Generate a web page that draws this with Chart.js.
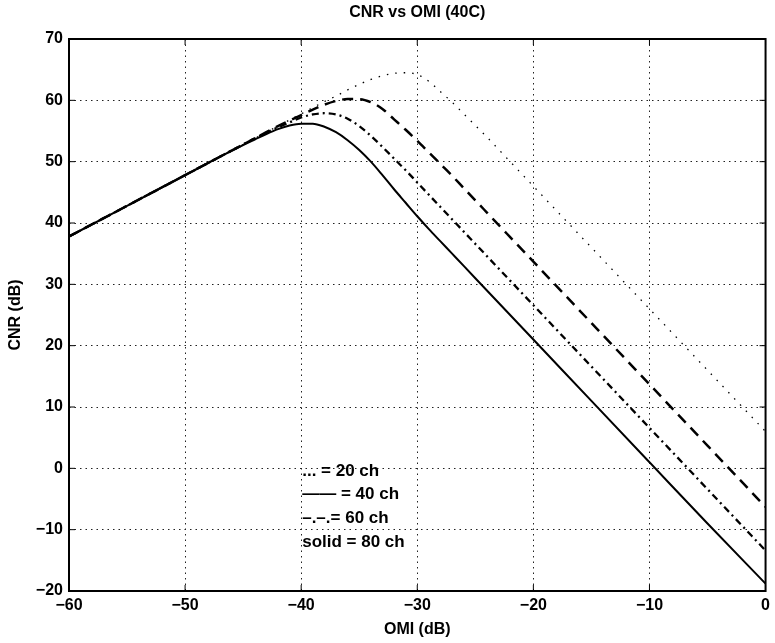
<!DOCTYPE html>
<html>
<head>
<meta charset="utf-8">
<script src="https://cdn.jsdelivr.net/npm/chart.js@4.4.1/dist/chart.umd.min.js"></script>
<style>
  body { margin: 0; background: #fff; }
</style>
</head>
<body>
<canvas id="cnr" width="775" height="643"></canvas>
<script>
// OMI (dB) positions shared by all curves
let omi = [-60, -55, -50, -47, -45, -44, -43, -42, -41, -40, -39, -38, -37, -36, -35, -34,
           -33, -32, -31, -30, -29, -28, -27, -26, -25, -24, -22, -20, -15, -10, -5, 0];

// CNR (dB) for each channel count
let cnr20 = [37.8, 42.8, 47.8, 50.8, 52.8, 53.8, 54.8, 55.8, 56.8, 57.8, 58.8, 59.8, 60.7, 61.7, 62.6, 63.4,
             64.0, 64.4, 64.5, 64.2, 63.1, 61.4, 59.7, 57.8, 55.9, 54.0, 50.0, 46.0, 36.0, 26.0, 16.0, 6.0];
let cnr40 = [37.8, 42.8, 47.8, 50.8, 52.8, 53.8, 54.8, 55.8, 56.7, 57.6, 58.5, 59.3, 59.9, 60.2, 60.2, 59.7,
             58.6, 56.9, 55.2, 53.4, 51.5, 49.6, 47.7, 45.7, 43.7, 41.7, 37.7, 33.7, 23.7, 13.7, 3.7, -6.3];
let cnr60 = [37.8, 42.8, 47.8, 50.8, 52.8, 53.8, 54.7, 55.6, 56.4, 57.2, 57.7, 57.9, 57.7, 57.0, 55.8, 54.2,
             52.4, 50.5, 48.6, 46.6, 44.6, 42.6, 40.6, 38.6, 36.6, 34.6, 30.6, 26.6, 16.6, 6.6, -3.4, -13.4];
let cnr80 = [37.8, 42.8, 47.8, 50.8, 52.7, 53.6, 54.5, 55.3, 55.9, 56.2, 56.2, 55.7, 54.8, 53.5, 51.9, 50.0,
             47.8, 45.5, 43.3, 41.1, 39.0, 37.0, 35.0, 33.0, 31.0, 29.0, 25.0, 21.0, 11.0, 1.0, -9.0, -18.8];

// text legend drawn inside the axes
let legendLines = ['... = 20 ch', '\u2014\u2014 = 40 ch', '\u2013.\u2013.= 60 ch', 'solid = 80 ch'];
let legendRows = [-0.5, -4.2, -8.2, -12.1];   // CNR value at the middle of each text row

const FONT = "'Liberation Sans', Arial, Helvetica, sans-serif";

function pts(ys) {
    return omi.map((x, i) => ({ x: x, y: ys[i] }));
}

function minus(v) {
    return v < 0 ? '\u2212' + Math.abs(v) : '' + v;
}

function curve(ys, dash, width) {
    return {
        data: pts(ys),
        borderColor: '#000',
        borderWidth: width,
        borderDash: dash,
        pointRadius: 0,
        fill: false,
        cubicInterpolationMode: 'monotone'
    };
}

// box, inward ticks, title and the text legend
const matlabDecor = {
    id: 'matlabDecor',
    afterDatasetsDraw(chart) {
        const { ctx, chartArea: a, scales } = chart;
        ctx.save();
        ctx.strokeStyle = '#000';
        ctx.lineWidth = 1;
        ctx.setLineDash([]);
        ctx.beginPath();
        scales.x.ticks.forEach(t => {
            const px = scales.x.getPixelForValue(t.value);
            ctx.moveTo(px, a.bottom); ctx.lineTo(px, a.bottom - 6);
            ctx.moveTo(px, a.top); ctx.lineTo(px, a.top + 6);
        });
        scales.y.ticks.forEach(t => {
            const py = scales.y.getPixelForValue(t.value);
            ctx.moveTo(a.left, py); ctx.lineTo(a.left + 6, py);
            ctx.moveTo(a.right, py); ctx.lineTo(a.right - 6, py);
        });
        ctx.stroke();

        ctx.lineWidth = 2;
        ctx.strokeRect(a.left, a.top, a.right - a.left, a.bottom - a.top);

        ctx.fillStyle = '#000';
        ctx.font = 'bold 16px ' + FONT;
        ctx.textAlign = 'center';
        ctx.textBaseline = 'middle';
        ctx.fillText('CNR vs OMI (40C)', (a.left + a.right) / 2, 13);

        ctx.font = 'bold 17px ' + FONT;
        ctx.textAlign = 'left';
        const lx = scales.x.getPixelForValue(-40) + 1;
        legendLines.forEach((txt, i) => {
            ctx.fillText(txt, lx, scales.y.getPixelForValue(legendRows[i]));
        });
        ctx.restore();
    }
};

const tickFont = { family: FONT, size: 16, weight: 'bold' };

new Chart(document.getElementById('cnr'), {
    type: 'line',
    data: {
        datasets: [
            curve(cnr20, [1.5, 7], 1.3),
            curve(cnr40, [11, 7], 2.5),
            curve(cnr60, [7, 4, 2, 4], 2.3),
            curve(cnr80, [], 2)
        ]
    },
    options: {
        responsive: false,
        animation: false,
        layout: { padding: { top: 39, right: 8, left: 0, bottom: 0 } },
        plugins: {
            legend: { display: false },
            title: { display: false },
            tooltip: { enabled: false }
        },
        scales: {
            x: {
                type: 'linear',
                min: -60,
                max: 0,
                ticks: { stepSize: 10, padding: 5, color: '#000', font: tickFont, callback: minus },
                grid: { color: '#222', lineWidth: 1, drawTicks: false },
                border: { display: false, dash: [1.5, 4] },
                title: { display: true, text: 'OMI (dB)', color: '#000', font: tickFont, padding: { top: 0, bottom: 4 } },
                afterFit(s) { s.height = 52; }
            },
            y: {
                min: -20,
                max: 70,
                ticks: { stepSize: 10, padding: 6, color: '#000', font: tickFont, callback: minus },
                grid: { color: '#222', lineWidth: 1, drawTicks: false },
                border: { display: false, dash: [1.5, 4] },
                title: { display: true, text: 'CNR (dB)', color: '#000', font: tickFont, padding: { top: 6, bottom: 0 } },
                afterFit(s) { s.width = 69; }
            }
        }
    },
    plugins: [matlabDecor]
});
</script>
</body>
</html>
